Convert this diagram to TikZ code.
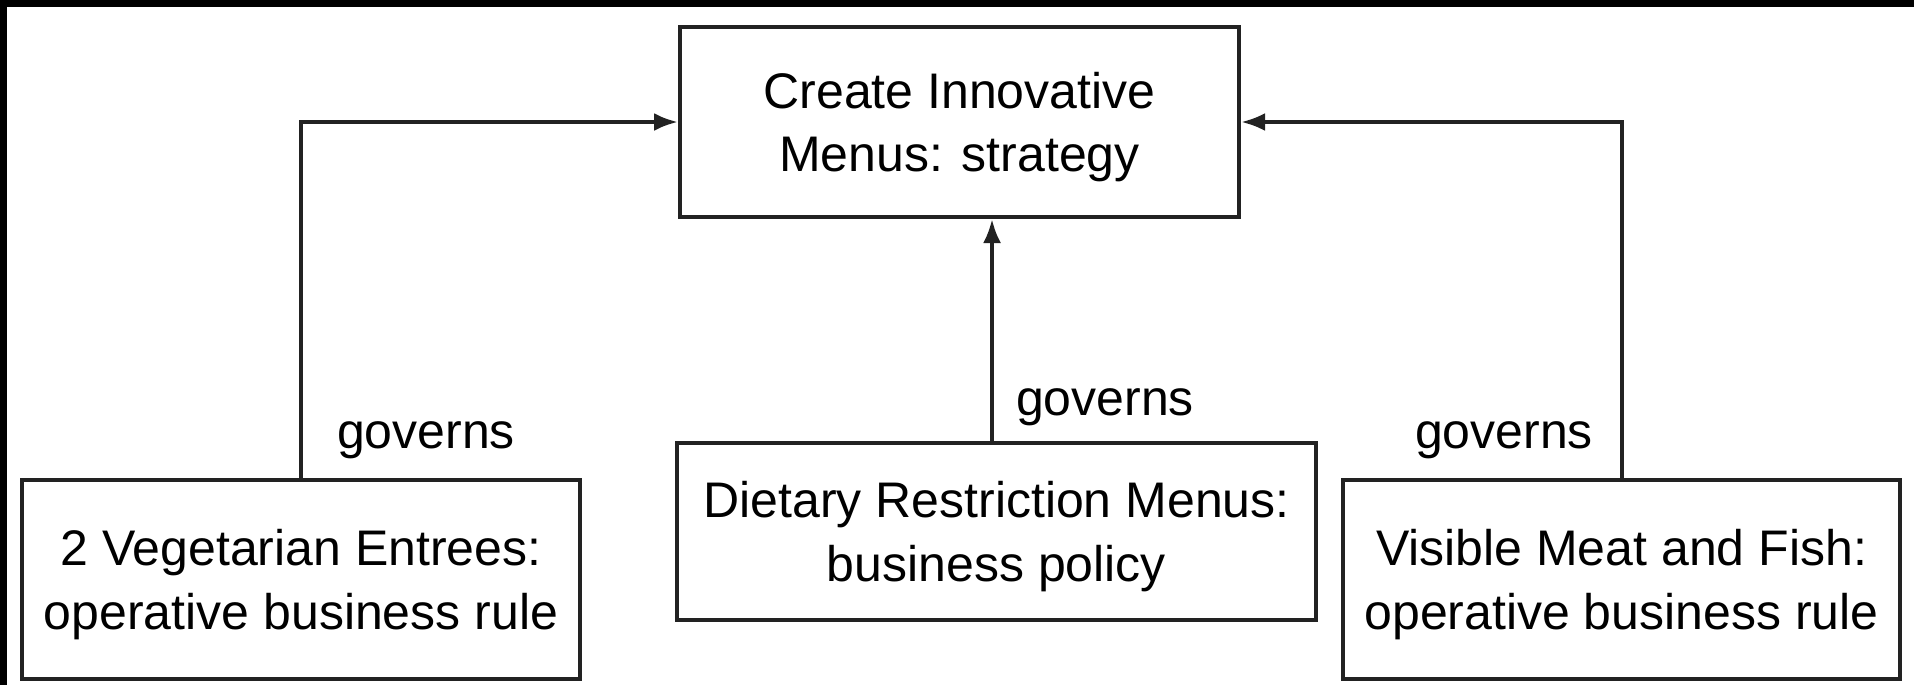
\documentclass[tikz,border=0pt]{standalone}
\usepackage{fontspec}
\setmainfont{Liberation Sans}
\usetikzlibrary{arrows.meta}
\definecolor{linec}{HTML}{222222}
\begin{document}
\begin{tikzpicture}[x=0.5pt,y=-0.5pt,
  box/.style={draw=linec, line width=2pt, inner sep=0pt},
  boxtext/.style={align=center, inner sep=0pt, yshift=-2.5pt,
    font=\fontsize{25}{31.75}\selectfont, text=black},
  lbl/.style={font=\fontsize{25}{30}\selectfont, inner sep=0pt, text=black},
  conn/.style={draw=linec, line width=2pt, -{Latex[length=12pt,width=9pt]}}]
\useasboundingbox (0,0) rectangle (1914,685);
\fill[black] (0,0) rectangle (1914,7);
\fill[black] (0,0) rectangle (7,685);

\node[box, minimum width=279.5pt, minimum height=95pt,
  label={[boxtext, name=topt]center:{Create Innovative\\Menus: strategy}}] (top) at (959.5,122) {};
\node[box, minimum width=279pt, minimum height=99.5pt,
  label={[boxtext, name=lbt]center:{2 Vegetarian Entrees:\\operative business rule}}] (lb) at (301,579.5) {};
\node[box, minimum width=319.5pt, minimum height=88.5pt,
  label={[boxtext, name=cbt]center:{Dietary Restriction Menus:\\business policy}}] (cb) at (996.5,531.5) {};
\node[box, minimum width=278.5pt, minimum height=99.5pt,
  label={[boxtext, name=rbt]center:{Visible Meat and Fish:\\operative business rule}}] (rb) at (1621.5,579.5) {};

\draw[conn] (lb.north) |- (top.west);
\draw[conn] (rb.north) |- (top.east);
\draw[conn] ([xshift=-2.25pt]cb.north) -- ([xshift=-2.25pt]cb.north |- top.south);

\node[lbl] (g1) at (426,440.5) {governs};
\node[lbl] (g2) at (1105,407.5) {governs};
\node[lbl] (g3) at (1504,440.5) {governs};
\end{tikzpicture}
\end{document}
